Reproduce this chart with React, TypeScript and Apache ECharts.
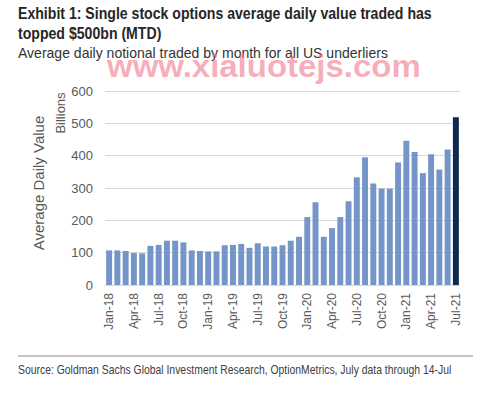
import React, { useEffect, useRef } from "react";
import * as echarts from "echarts";

const months = [
  "Jan-18","Feb-18","Mar-18","Apr-18","May-18","Jun-18","Jul-18","Aug-18","Sep-18","Oct-18","Nov-18","Dec-18",
  "Jan-19","Feb-19","Mar-19","Apr-19","May-19","Jun-19","Jul-19","Aug-19","Sep-19","Oct-19","Nov-19","Dec-19",
  "Jan-20","Feb-20","Mar-20","Apr-20","May-20","Jun-20","Jul-20","Aug-20","Sep-20","Oct-20","Nov-20","Dec-20",
  "Jan-21","Feb-21","Mar-21","Apr-21","May-21","Jun-21","Jul-21",
];

const values = [
  107, 107, 105, 99, 98, 121, 124, 137, 137, 132, 107, 105,
  104, 104, 123, 124, 127, 115, 129, 119, 119, 123, 137, 149,
  210, 256, 149, 176, 210, 259, 333, 395, 314, 298, 298, 379,
  446, 411, 346, 404, 357, 419, 519,
];

const yTicks = { min: 0, max: 600, interval: 100 };

const titleLine1 = "Exhibit 1: Single stock options average daily value traded has";
const titleLine2 = "topped $500bn (MTD)";
const subtitle = "Average daily notional traded by month for all US underliers";
const source = "Source: Goldman Sachs Global Investment Research, OptionMetrics, July data through 14-Jul";
const watermark = "www.xialuotejs.com";

const SANS = "'Liberation Sans', Arial, sans-serif";

export default function App() {
  const ref = useRef<HTMLDivElement>(null);

  useEffect(() => {
    if (!ref.current) return;
    const chart = echarts.init(ref.current, undefined, { renderer: "svg" });
    const lastIdx = values.length - 1;
    chart.setOption({
      animation: false,
      backgroundColor: "#ffffff",
      grid: { left: 105, right: 39, top: 91, bottom: 111 },
      xAxis: {
        type: "category",
        data: months,
        boundaryGap: true,
        axisLine: { show: true, lineStyle: { color: "#d9d9d9" } },
        axisTick: { show: false },
        axisLabel: {
          interval: 2,
          rotate: 90,
          color: "#595959",
          fontFamily: SANS,
          fontSize: 12,
          margin: 8,
        },
      },
      yAxis: {
        type: "value",
        min: yTicks.min,
        max: yTicks.max,
        interval: yTicks.interval,
        axisLine: { show: false },
        axisTick: { show: false },
        splitLine: { lineStyle: { color: "#d9d9d9", width: 1 } },
        axisLabel: { color: "#595959", fontFamily: SANS, fontSize: 13, margin: 12 },
      },
      series: [
        {
          type: "bar",
          data: values.map((v, i) => ({
            value: v,
            itemStyle: { color: i === lastIdx ? "#0b2a4e" : "#7395c7" },
          })),
          barCategoryGap: "28%",
        },
      ],
      graphic: [
        {
          type: "text",
          x: 18,
          y: 5,
          scaleX: 0.83,
          style: { text: titleLine1, fontFamily: SANS, fontWeight: "bold", fontSize: 17, fill: "#262626", verticalAlign: "top" },
        },
        {
          type: "text",
          x: 18,
          y: 25,
          scaleX: 0.83,
          style: { text: titleLine2, fontFamily: SANS, fontWeight: "bold", fontSize: 17, fill: "#262626", verticalAlign: "top" },
        },
        {
          type: "text",
          x: 18,
          y: 45,
          scaleX: 0.935,
          style: { text: subtitle, fontFamily: SANS, fontSize: 15, fill: "#333333", verticalAlign: "top" },
        },
        {
          type: "text",
          x: 107,
          y: 50,
          scaleX: 1.03,
          z: 10,
          style: { text: watermark, fontFamily: SANS, fontWeight: "bold", fontSize: 32, fill: "rgba(240,120,140,0.6)", verticalAlign: "top" },
        },
        {
          type: "text",
          x: 38,
          y: 183,
          rotation: Math.PI / 2,
          style: {
            text: "Average Daily Value",
            fontFamily: SANS,
            fontSize: 15,
            fill: "#595959",
            align: "center",
            verticalAlign: "middle",
          },
        },
        {
          type: "text",
          x: 60,
          y: 113,
          rotation: Math.PI / 2,
          style: {
            text: "Billions",
            fontFamily: SANS,
            fontSize: 13,
            fill: "#595959",
            align: "center",
            verticalAlign: "middle",
          },
        },
        {
          type: "line",
          shape: { x1: 18, y1: 356, x2: 473, y2: 356 },
          style: { stroke: "#8c8c8c", lineWidth: 1 },
        },
        {
          type: "text",
          x: 18,
          y: 363,
          scaleX: 0.8,
          style: { text: source, fontFamily: SANS, fontSize: 13, fill: "#404040", verticalAlign: "top" },
        },
      ],
    });
    return () => chart.dispose();
  }, []);

  return (
    <div
      ref={ref}
      style={{ position: "fixed", left: 0, top: 0, width: 499, height: 396, background: "#fff" }}
    />
  );
}
